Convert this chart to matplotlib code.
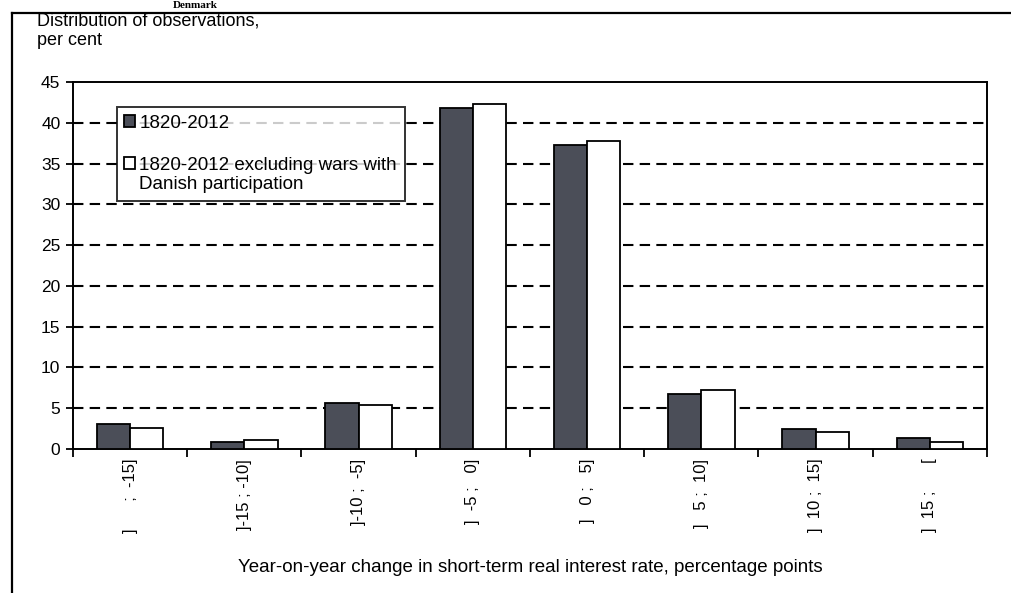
import matplotlib
matplotlib.use("Agg")
import matplotlib.pyplot as plt
import numpy as np
from matplotlib.patches import Rectangle
from matplotlib.lines import Line2D
from matplotlib.legend_handler import HandlerPatch

categories = ["]      ;  -15]", "]-15 ; -10]", "]-10 ;  -5]", "]  -5 ;   0]",
              "]   0 ;   5]", "]   5 ;  10]", "]  10 ;  15]", "]  15 ;      ["]
series_all = [3.1, 0.9, 5.6, 41.8, 37.3, 6.8, 2.5, 1.3]
series_excl = [2.6, 1.1, 5.4, 42.3, 37.8, 7.2, 2.1, 0.9]
yticks = [0, 5, 10, 15, 20, 25, 30, 35, 40, 45]
label_all = "1820-2012"
label_excl = "1820-2012 excluding wars with\nDanish participation"

plt.rcParams['font.family'] = ['Liberation Sans', 'DejaVu Sans']

fig = plt.figure(figsize=(10.12, 5.93), dpi=100)
ax = fig.add_axes([73/1012, 1-449/593, (987-73)/1012, (449-82)/593])

x = np.arange(len(categories))
w = 0.29
ax.bar(x - w/2, series_all, width=w, color='#4b4e58', edgecolor='black', linewidth=1.3, zorder=3)
ax.bar(x + w/2, series_excl, width=w, color='white', edgecolor='black', linewidth=1.3, zorder=3)

ax.set_xlim(-0.5, len(categories) - 0.5)
ax.set_ylim(0, 45)
ax.set_yticks(yticks)
ax.set_yticklabels([str(v) for v in yticks], fontsize=12.5)
for v in yticks[1:-1]:
    ax.axhline(v, color='black', linestyle=(0, (5, 3)), linewidth=1.5, zorder=1)

ax.set_xticks(np.arange(len(categories) + 1) - 0.5)
ax.set_xticklabels([])
ax.tick_params(axis='x', direction='out', length=6, width=1.3)
ax.tick_params(axis='y', direction='out', length=5, width=1.3, pad=4)
for i, c in enumerate(categories):
    ax.text(i, -1.2, c, rotation=90, ha='center', va='top', fontsize=12)

for s in ax.spines.values():
    s.set_linewidth(1.4)


def raised_patch(legend, orig_handle, xdescent, ydescent, width, height, fontsize):
    return Rectangle((-xdescent, -ydescent + 8.7), width, height)


h1 = Rectangle((0, 0), 1, 1, facecolor='#4b4e58', edgecolor='black', linewidth=1.3)
h2 = Rectangle((0, 0), 1, 1, facecolor='white', edgecolor='black', linewidth=1.3)
leg = ax.legend([h1, h2], [label_all, label_excl], loc='upper left',
                bbox_to_anchor=(44/914, 1-(107-82)/367), frameon=True, fancybox=False,
                edgecolor='black', fontsize=13.5, handlelength=0.55, handleheight=0.55,
                handletextpad=0.25, labelspacing=1.35, borderpad=0.4, borderaxespad=0,
                handler_map={h2: HandlerPatch(patch_func=raised_patch)})
leg.get_frame().set_linewidth(1.4)
leg.set_zorder(5)

fig.text(37/1012, 1-31/593, "Distribution of observations,\nper cent", fontsize=13,
         ha='left', va='center', linespacing=1.2)
fig.text(530/1012, 1-568/593,
         "Year-on-year change in short-term real interest rate, percentage points",
         fontsize=13.5, ha='center', va='center')
fig.text(195/1012, 1-1/593, "Denmark", fontsize=8, fontweight='bold',
         family=['Liberation Serif'], ha='center', va='top')

fig.add_artist(Line2D([12/1012, 1.0], [1-13/593, 1-13/593], color='black', linewidth=1.6,
                      transform=fig.transFigure))
fig.add_artist(Line2D([12/1012, 12/1012], [1-13/593, 0.0], color='black', linewidth=1.6,
                      transform=fig.transFigure))

fig.savefig("out.png", dpi=100)
